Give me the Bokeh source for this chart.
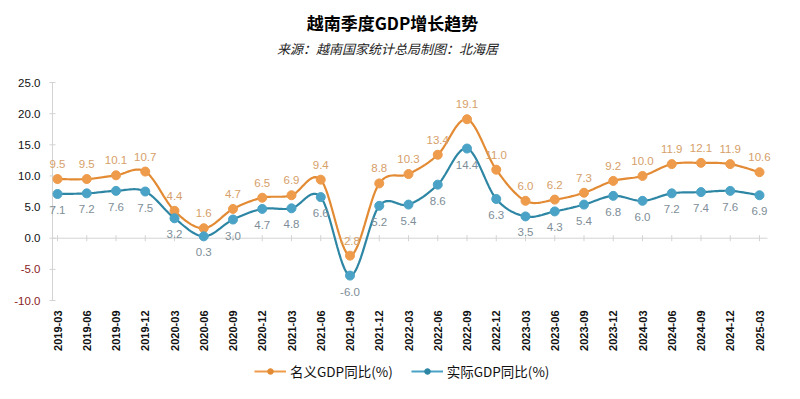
import math
import numpy as np
from bokeh.plotting import figure
from bokeh.models import (ColumnDataSource, Range1d, Label, LabelSet, Legend, LegendItem)
from bokeh.core.properties import value
from bokeh.embed import file_html
from bokeh.resources import INLINE

quarters = ["2019-03", "2019-06", "2019-09", "2019-12",
            "2020-03", "2020-06", "2020-09", "2020-12",
            "2021-03", "2021-06", "2021-09", "2021-12",
            "2022-03", "2022-06", "2022-09", "2022-12",
            "2023-03", "2023-06", "2023-09", "2023-12",
            "2024-03", "2024-06", "2024-09", "2024-12",
            "2025-03"]
nominal = [9.5, 9.5, 10.1, 10.7, 4.4, 1.6, 4.7, 6.5, 6.9, 9.4, -2.8, 8.8,
           10.3, 13.4, 19.1, 11.0, 6.0, 6.2, 7.3, 9.2, 10.0, 11.9, 12.1, 11.9, 10.6]
real = [7.1, 7.2, 7.6, 7.5, 3.2, 0.3, 3.0, 4.7, 4.8, 6.6, -6.0, 5.2,
        5.4, 8.6, 14.4, 6.3, 3.5, 4.3, 5.4, 6.8, 6.0, 7.2, 7.4, 7.6, 6.9]
y_ticks = [-10, -5, 0, 5, 10, 15, 20, 25]

title_text = "越南季度GDP增长趋势"
subtitle_text = "来源：越南国家统计总局制图：北海居"
name_nominal = "名义GDP同比(%)"
name_real = "实际GDP同比(%)"

ORANGE_LINE = "#E38B34"
ORANGE_DOT = "#EE9B4C"
ORANGE_TXT = "#D6A06A"
TEAL_LINE = "#2E86A5"
TEAL_DOT = "#4AA3C6"
TEAL_TXT = "#7E8E98"
AXIS_GREY = "#D3D3D3"
CJK = "Noto Sans CJK SC"
LAT = "Liberation Sans"

# ---- layout (pixels of the 784x383 canvas) ----
W, H = 784, 383
PX_X = 29.25            # px per quarter
X0_PX = 57              # canvas x of first quarter
AXIS_PX = 52            # canvas x of the y axis line
Y_TOP_PX, Y_BOT_PX = 82, 300   # canvas y of y=25 and y=-10
Y_MAX, Y_MIN = 25, -10
PX_Y = (Y_BOT_PX - Y_TOP_PX) / (Y_MAX - Y_MIN)

x_start = -X0_PX / PX_X
x_end = x_start + W / PX_X
y_end = Y_MAX + Y_TOP_PX / PX_Y
y_start = Y_MIN - (H - Y_BOT_PX) / PX_Y


def px_to_x(px):
    return x_start + px / PX_X


def py_to_y(py):
    return y_end - py / PX_Y


AXIS_X = px_to_x(AXIS_PX)


def smooth(xs, ys, n=16):
    xs = np.asarray(xs, float)
    ys = np.asarray(ys, float)
    ox, oy = [], []
    m = len(xs)
    for i in range(m - 1):
        p0 = (xs[max(i - 1, 0)], ys[max(i - 1, 0)])
        p1 = (xs[i], ys[i])
        p2 = (xs[i + 1], ys[i + 1])
        p3 = (xs[min(i + 2, m - 1)], ys[min(i + 2, m - 1)])
        for t in np.linspace(0, 1, n, endpoint=(i == m - 2)):
            t2, t3 = t * t, t * t * t
            for k, out in ((0, ox), (1, oy)):
                out.append(0.5 * ((2 * p1[k]) + (-p0[k] + p2[k]) * t +
                                  (2 * p0[k] - 5 * p1[k] + 4 * p2[k] - p3[k]) * t2 +
                                  (-p0[k] + 3 * p1[k] - 3 * p2[k] + p3[k]) * t3))
    return ox, oy


idx = list(range(len(quarters)))
src = ColumnDataSource(dict(
    x=idx, zero=[0] * len(idx), ymin=[Y_MIN] * len(idx), q=quarters,
    nom=nominal, real=real,
    nom_lbl=[f"{v:.1f}" for v in nominal],
    real_lbl=[f"{v:.1f}" for v in real],
))
ysrc = ColumnDataSource(dict(
    x=[AXIS_X] * len(y_ticks), y=y_ticks,
    lbl=[f"{v:.1f}" for v in y_ticks],
    col=["#8B2323" if v < 0 else "#111111" for v in y_ticks],
))

p = figure(width=W, height=H, title=None, output_backend="svg",
           toolbar_location=None,
           x_range=Range1d(x_start, x_end), y_range=Range1d(y_start, y_end),
           x_axis_location=None, y_axis_location=None,
           min_border=0)
p.outline_line_color = None
p.xgrid.visible = False
p.ygrid.visible = False
p.background_fill_color = "white"
p.border_fill_color = "white"

# titles
p.add_layout(Label(x=px_to_x(392), y=py_to_y(22), text=title_text,
                   text_align="center", text_baseline="middle",
                   text_font=CJK, text_font_size="17px", text_font_style="bold",
                   text_color="#000000"))
p.add_layout(Label(x=px_to_x(387), y=py_to_y(48), text=subtitle_text,
                   text_align="center", text_baseline="middle",
                   text_font=CJK, text_font_size="13px", text_font_style="italic",
                   text_color="#222222"))

# y axis: line, ticks, labels
p.segment(x0=AXIS_X, y0=Y_MIN, x1=AXIS_X, y1=Y_MAX, line_color=AXIS_GREY, line_width=1)
p.scatter("x", "y", source=ysrc, marker="dash", size=6, line_color=AXIS_GREY)
p.add_layout(LabelSet(x="x", y="y", text="lbl", source=ysrc, x_offset=-12,
                      text_align="right", text_baseline="middle",
                      text_font=value(LAT), text_font_size="11.5px",
                      text_color="col"))

# zero line with small ticks
p.segment(x0=AXIS_X, y0=0, x1=idx[-1] + 0.27, y1=0, line_color=AXIS_GREY, line_width=1)
p.scatter("x", "zero", source=src, marker="dash", angle=math.pi / 2, size=6,
          line_color=AXIS_GREY, line_width=1)

# category labels (rotated)
p.add_layout(LabelSet(x="x", y="ymin", text="q", source=src, y_offset=-10,
                      angle=math.pi / 2, text_align="right", text_baseline="middle",
                      text_font=value(LAT), text_font_size="11px",
                      text_font_style="bold", text_color="#111111"))

# lines
sx, sy = smooth(idx, nominal)
p.line(sx, sy, line_color=ORANGE_LINE, line_width=2.2)
p.scatter("x", "nom", source=src, size=9, fill_color=ORANGE_DOT, line_color=ORANGE_DOT)
rx, ry = smooth(idx, real)
p.line(rx, ry, line_color=TEAL_LINE, line_width=2.2)
p.scatter("x", "real", source=src, size=9, fill_color=TEAL_DOT, line_color=TEAL_DOT)

p.add_layout(LabelSet(x="x", y="nom", text="nom_lbl", source=src, y_offset=11,
                      text_align="center", text_baseline="bottom",
                      text_font=value(LAT), text_font_size="11.5px",
                      text_color=ORANGE_TXT))
p.add_layout(LabelSet(x="x", y="real", text="real_lbl", source=src, y_offset=-12,
                      text_align="center", text_baseline="top",
                      text_font=value(LAT), text_font_size="11.5px",
                      text_color=TEAL_TXT))

# legend key glyphs (one NaN point each, so nothing shows in the plot)
nan = [float("nan")]
lk1 = p.line(nan, nan, line_color=ORANGE_DOT, line_width=2)
mk1 = p.scatter(nan, nan, size=5, fill_color=ORANGE_LINE, line_color=ORANGE_LINE)
lk2 = p.line(nan, nan, line_color=TEAL_DOT, line_width=2)
mk2 = p.scatter(nan, nan, size=5, fill_color=TEAL_LINE, line_color=TEAL_LINE)
legend = Legend(items=[LegendItem(label=name_nominal, renderers=[lk1, mk1]),
                       LegendItem(label=name_real, renderers=[lk2, mk2])],
                orientation="horizontal", location=(254, 2),
                label_text_font=CJK, label_text_font_size="13.5px",
                label_text_color="#111111", glyph_width=32, glyph_height=14,
                label_standoff=4, spacing=18, border_line_color=None,
                background_fill_alpha=0, margin=0, padding=4)
p.add_layout(legend, "center")

open("out.html", "w").write(file_html(p, INLINE))
